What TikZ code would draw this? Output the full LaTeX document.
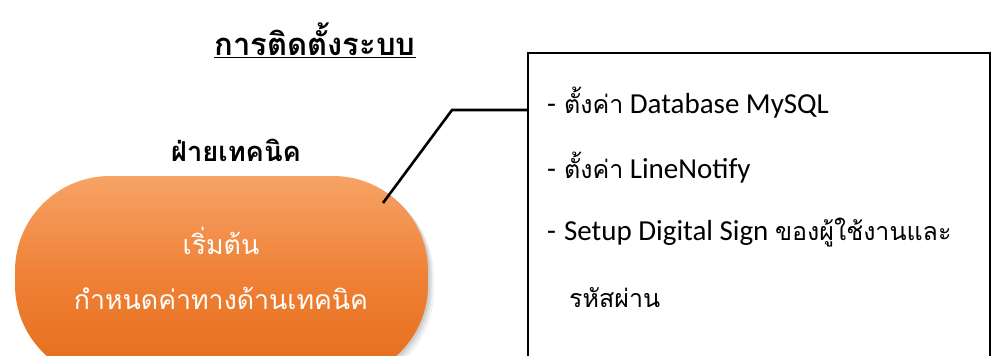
\documentclass[tikz,border=0pt]{standalone}
\usepackage{fontspec}
\setmainfont{Carlito}
\newfontfamily\thai[Script=Thai]{Loma}
\definecolor{pilltop}{HTML}{F6A366}
\definecolor{pillmid}{HTML}{EF8035}
\definecolor{pillbot}{HTML}{E46C1A}
\newcommand{\thaiin}[1]{{\thai\fontsize{25}{28}\selectfont #1}}
\begin{document}
\begin{tikzpicture}[x=1pt,y=-1pt,
  titletext/.style={font=\thai\bfseries\fontsize{31}{33}\selectfont, inner sep=0pt},
  whitetext/.style={text=white, font=\thai\fontsize{26.7}{29}\selectfont, inner sep=0pt},
  listtext/.style={font=\fontsize{29}{32}\selectfont, anchor=west, inner sep=0pt},
  linkline/.style={draw=black, line width=2.6pt},
  notebox/.style={draw=black, line width=2pt, minimum width=462pt, minimum height=347pt, inner sep=0pt}]
\useasboundingbox (0,0) rectangle (997,356);
% title
\node[titletext] (title) at (315,40) {\underline{การติดตั้งระบบ}};
\node[titletext, font=\thai\bfseries\fontsize{27.3}{29}\selectfont] (dept) at (236,150) {ฝ่ายเทคนิค};
% pill shadow
\foreach \o/\op in {6/0.05,4/0.07,2/0.09}{
  \fill[black, opacity=\op, rounded corners=95pt] (15+\o,176+\o) rectangle (428+\o,380+\o);
}
% pill
\shade[top color=pilltop, bottom color=pillbot, middle color=pillmid, rounded corners=95pt] (15,176) rectangle (428,380);
\node[whitetext] (start) at (221,241) {เริ่มต้น};
\node[whitetext] (setup) at (221,298) {กำหนดค่าทางด้านเทคนิค};
% note box
\node[notebox] (box) at (759,226.5) {};
\node[listtext] (l1) at (547,103) {-\hspace{8pt}\thaiin{ตั้งค่า} Database MySQL};
\node[listtext] (l2) at (547,168) {-\hspace{8pt}\thaiin{ตั้งค่า} LineNotify};
\node[listtext] (l3) at (547,233) {-\hspace{8pt}Setup Digital Sign \thaiin{ของผู้ใช้งานและ}};
\node[listtext, font=\thai\fontsize{25}{28}\selectfont] (l4) at (569,298) {รหัสผ่าน};
% connector
\coordinate (pin) at (383,203);
\coordinate (bend) at (452,110);
\coordinate (boxin) at (box.west |- bend);
\draw[linkline] (pin) -- (bend) -- (boxin);
\end{tikzpicture}
\end{document}
